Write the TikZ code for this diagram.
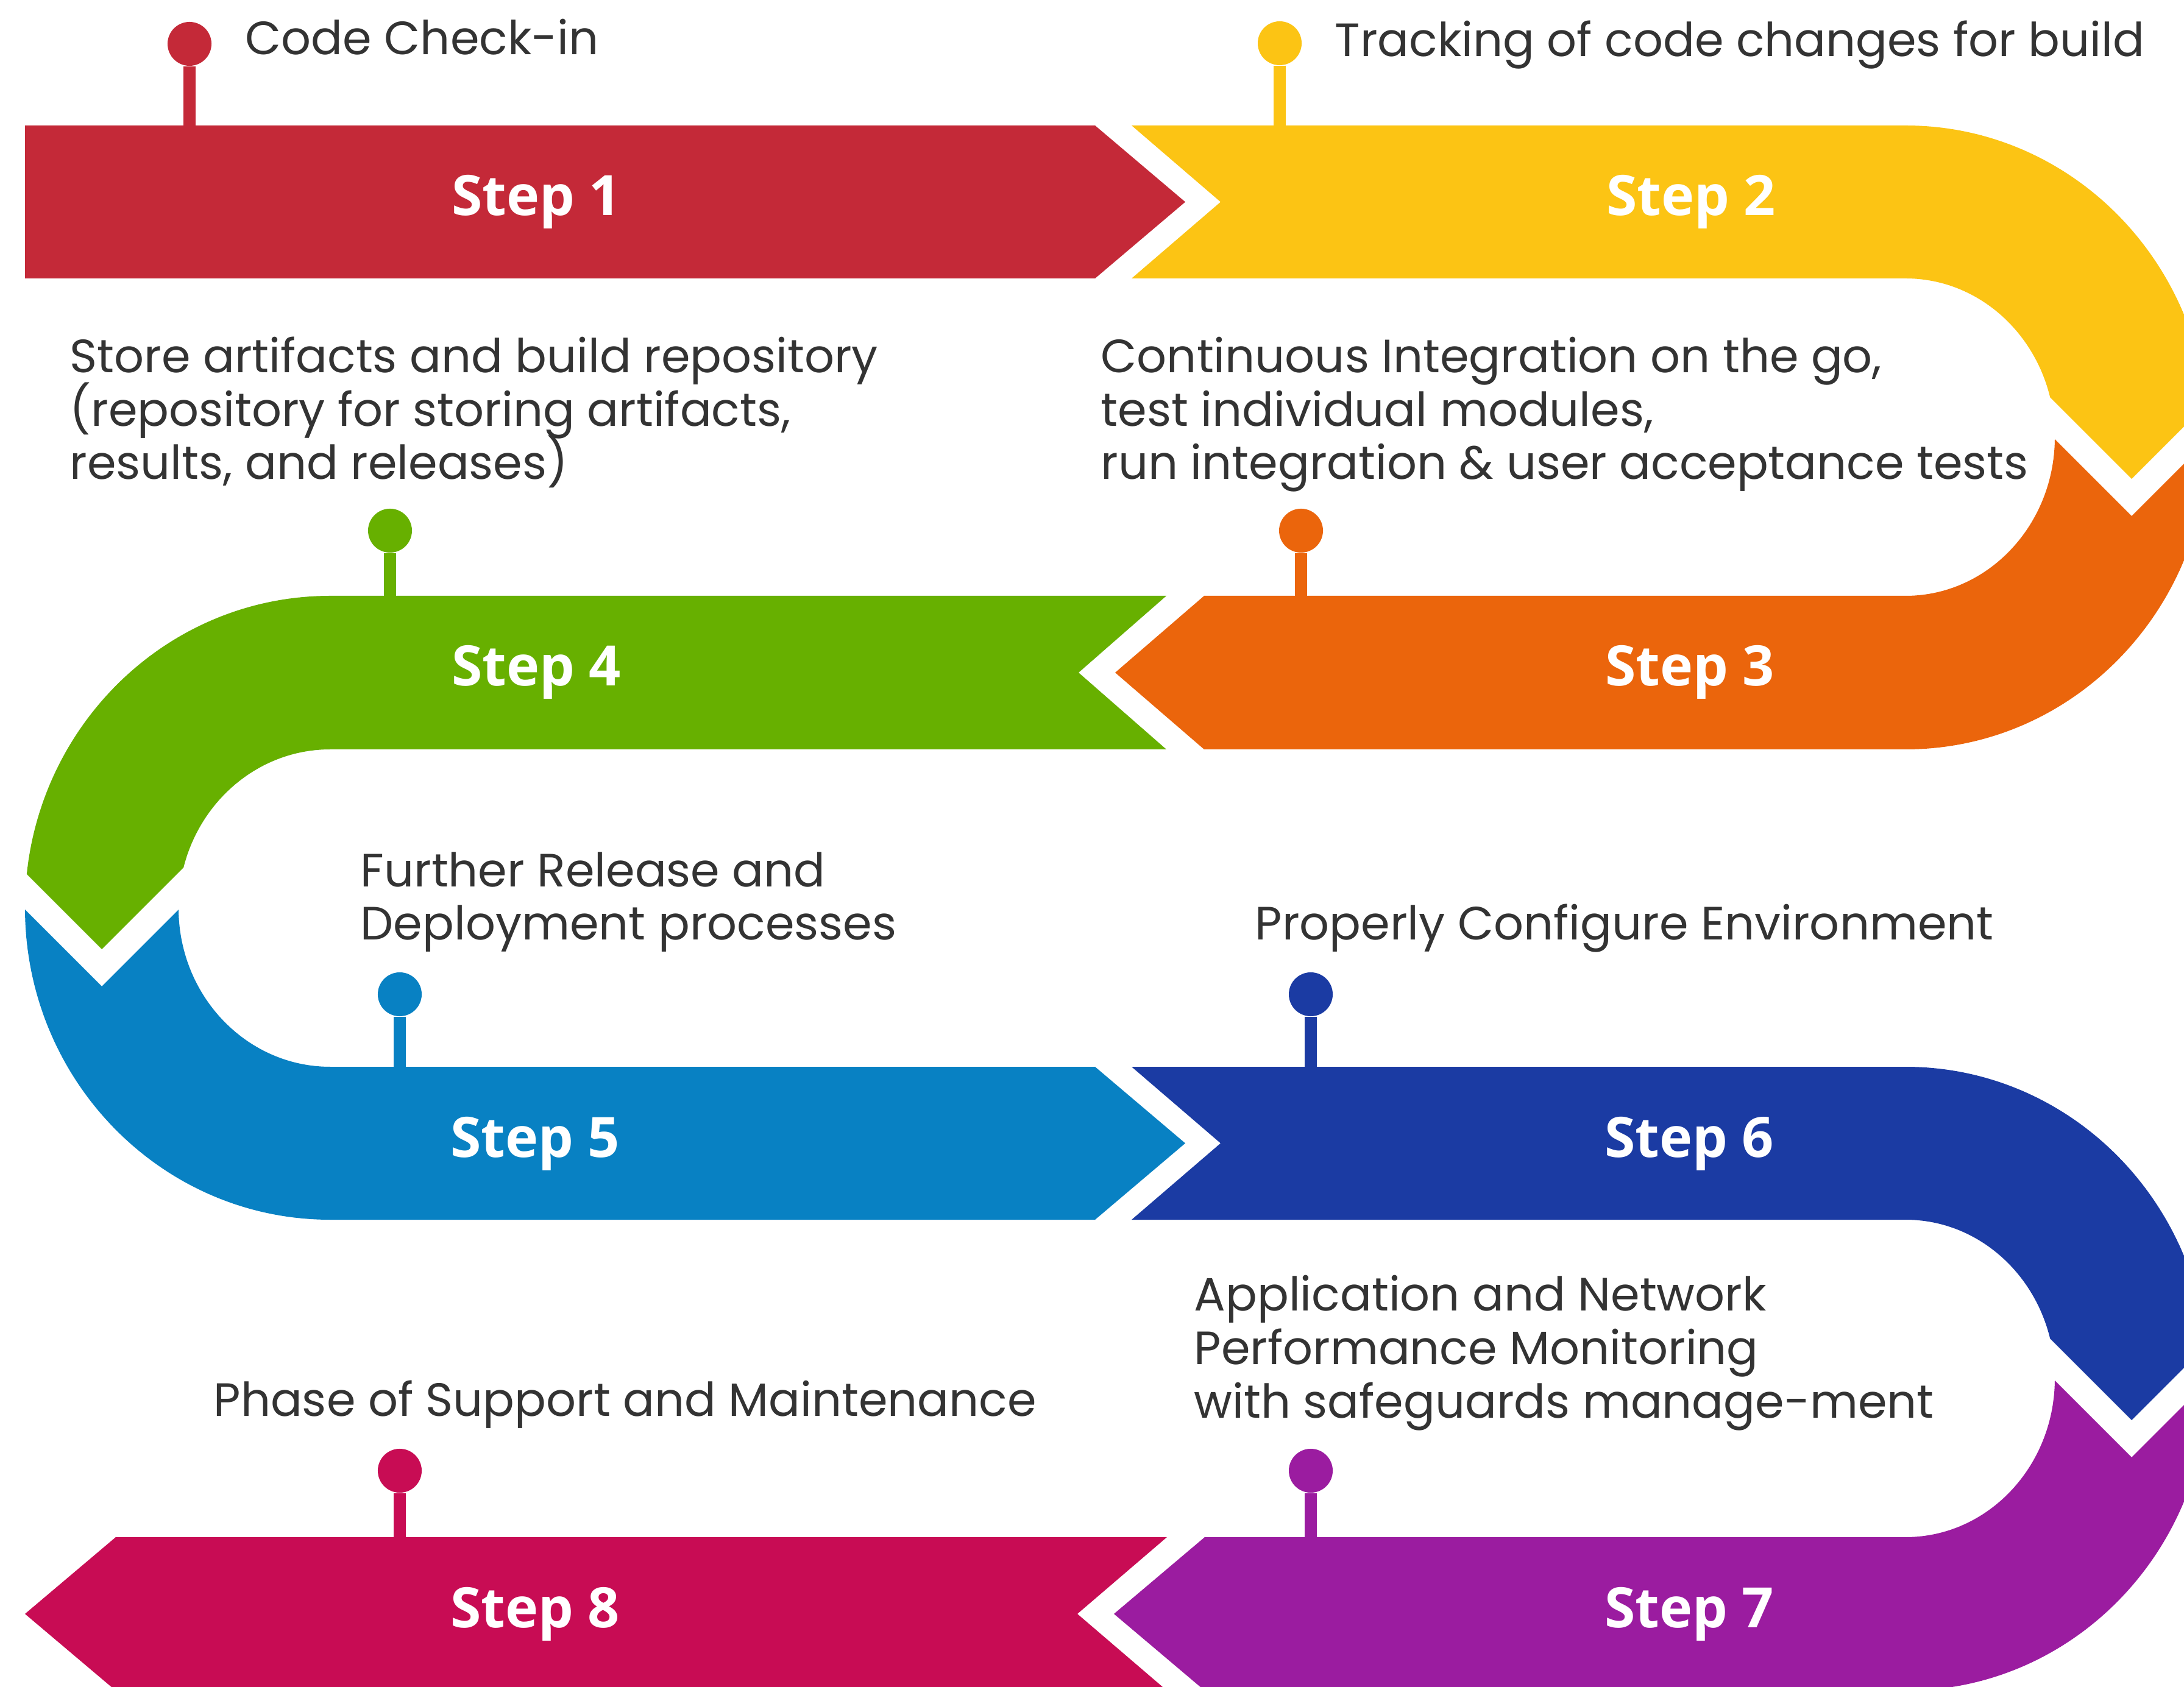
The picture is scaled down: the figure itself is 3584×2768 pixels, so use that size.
\documentclass[tikz,border=0pt]{standalone}
\usepackage{fontspec}
\usepackage{xcolor}
\usepackage{tikz}

\newfontfamily\labelfont{Poppins}
\newfontfamily\stepfont{Open Sans}
\setlength{\lineskiplimit}{-100pt}

\definecolor{stepred}{HTML}{C42938}
\definecolor{stepyellow}{HTML}{FCC414}
\definecolor{steporange}{HTML}{EB650C}
\definecolor{stepgreen}{HTML}{67B000}
\definecolor{steplightblue}{HTML}{0881C3}
\definecolor{stepblue}{HTML}{1B3BA3}
\definecolor{steppurple}{HTML}{9B1CA0}
\definecolor{stepmagenta}{HTML}{C80C54}
\definecolor{labelgray}{HTML}{333333}

\tikzset{
    steplabel/.style={text=white, font=\stepfont\bfseries\fontsize{26}{30}\selectfont, anchor=base, inner sep=0pt},
    textlabel/.style={text=labelgray, font=\labelfont\fontsize{21.8}{25}\selectfont, anchor=base west, align=left, inner sep=0pt},
    pinhead/.style={circle, fill=#1, minimum size=0.72cm, inner sep=0pt},
    pinstem/.style={draw=#1, line width=0.2cm},
}

\begin{document}
\begin{tikzpicture}[x=0.01cm, y=0.01cm]
    % page
    \useasboundingbox (0,0) rectangle (3584,2768);
    \clip (0,0) rectangle (3584,2768);
    \fill[white] (0,0) rectangle (3584,2768);
    % step 1
    \fill[stepred] (41,2562) -- (1797,2562) -- (1945,2436.5) -- (1797,2311) -- (41,2311) -- cycle;
    % steps 2 and 3, right turn
    \begin{scope}
        \clip (1857,2562) -- (3127,2562) arc[start angle=90, end angle=-90, x radius=497, y radius=512]
            -- (1976,1538) -- (1830,1664) -- (1976,1790) -- (3127,1790)
            arc[start angle=-90, end angle=90, x radius=245, y radius=260.5]
            -- (1857,2311) -- (2003,2436.5) -- cycle;
        \fill[stepyellow] (1800,2800) -- (1800,2050) -- (3300,2050) -- (3300,2180) -- (3498,1982) -- (4300,2784) -- (4300,2800) -- cycle;
        \fill[steporange] (1800,1300) -- (1800,2000) -- (3300,2000) -- (3300,2119) -- (3498,1921) -- (4300,2723) -- (4300,1300) -- cycle;
    \end{scope}
    % steps 4 and 5, left turn
    \begin{scope}
        \clip (1914,1790) -- (542,1790) arc[start angle=90, end angle=270, x radius=501, y radius=512]
            -- (1797,766) -- (1945,891.5) -- (1797,1017) -- (542,1017)
            arc[start angle=270, end angle=90, x radius=249, y radius=260.5]
            -- (1914,1538) -- (1770,1664) -- cycle;
        \fill[stepgreen] (2100,2000) -- (2100,1278) -- (400,1278) -- (400,1443) -- (167,1210) -- (-600,1977) -- (-600,2000) -- cycle;
        \fill[steplightblue] (-600,1916) -- (167,1149) -- (400,1382) -- (400,1300) -- (2100,1300) -- (2100,600) -- (-600,600) -- cycle;
    \end{scope}
    % steps 6 and 7, right turn
    \begin{scope}
        \clip (1857,1017) -- (3127,1017) arc[start angle=90, end angle=-90, x radius=497, y radius=512]
            -- (1977,-7) -- (1828,119) -- (1977,245) -- (3127,245)
            arc[start angle=-90, end angle=90, x radius=245, y radius=260.5]
            -- (1857,766) -- (2003,891.5) -- cycle;
        \fill[stepblue] (1800,1300) -- (1800,505) -- (3300,505) -- (3300,635) -- (3498,437) -- (4300,1239) -- (4300,1300) -- cycle;
        \fill[steppurple] (1800,-100) -- (1800,455) -- (3300,455) -- (3300,574) -- (3498,376) -- (4300,1178) -- (4300,-100) -- cycle;
    \end{scope}
    % step 8
    \fill[stepmagenta] (1915,245) -- (1768,119) -- (1915,-7) -- (190,-7) -- (41,119) -- (190,245) -- cycle;
    % pins
    \foreach \x/\y/\t/\c [count=\i] in {311/2696/2562/stepred, 2100/2697/2562/stepyellow,
        2135/1897/1790/steporange, 640/1897/1790/stepgreen, 656/1136/1017/steplightblue,
        2151/1136/1017/stepblue, 2151/354/245/steppurple, 656/354/245/stepmagenta}{
        \node[pinhead=\c] (pin\i) at (\x,\y) {};
        \coordinate (foot\i) at (\x,\t);
        \draw[pinstem=\c] (pin\i) -- (foot\i);
    }
    % step names
    \node[steplabel] (step1) at (880,2414) {Step 1};
    \node[steplabel] (step2) at (2775,2414) {Step 2};
    \node[steplabel] (step3) at (2773,1642) {Step 3};
    \node[steplabel] (step4) at (880,1642) {Step 4};
    \node[steplabel] (step5) at (878,869) {Step 5};
    \node[steplabel] (step6) at (2772,869) {Step 6};
    \node[steplabel] (step7) at (2772,97) {Step 7};
    \node[steplabel] (step8) at (878,97) {Step 8};
    % descriptions (base = last line)
    \node[textlabel] (text1) at (402,2678) {Code Check-in};
    \node[textlabel] (text2) at (2190,2675) {Tracking of code changes for build};
    \node[textlabel] (text3) at (1806,1981) {Continuous Integration on the go,\\test individual modules,\\run integration \& user acceptance tests};
    \node[textlabel] (text4) at (114,1981) {Store artifacts and build repository\\(repository for storing artifacts,\\results, and releases)};
    \node[textlabel] (text5) at (591,1225) {Further Release and\\Deployment processes};
    \node[textlabel] (text6) at (2059,1225) {Properly Configure Environment};
    \node[textlabel] (text7) at (1959,441) {Application and Network\\Performance Monitoring\\with safeguards manage-ment};
    \node[textlabel] (text8) at (350,444) {Phase of Support and Maintenance};
\end{tikzpicture}
\end{document}
